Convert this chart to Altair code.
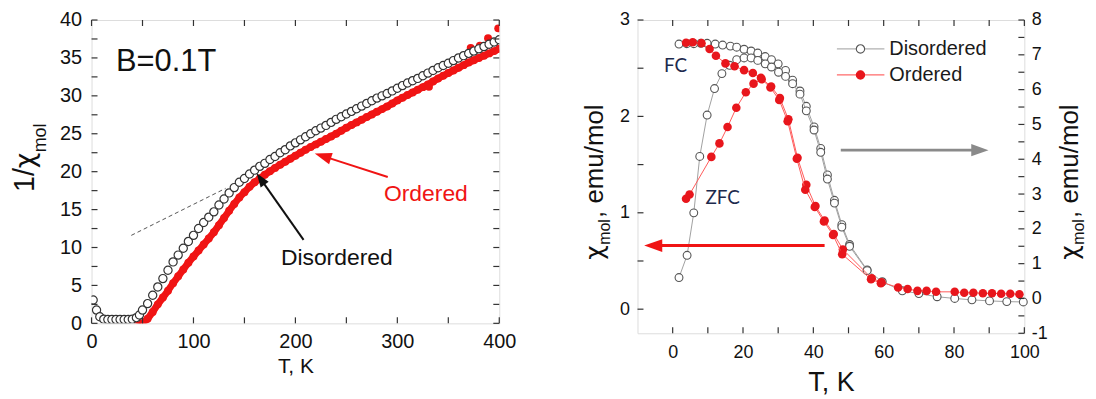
import math
import altair as alt
import pandas as pd

FONT = "Liberation Sans"
GREEK = "DejaVu Sans"
HEAD = "M0,0L-0.7,2L0.7,2Z"

# ---------------- Left panel: 1/chi_mol vs T ----------------
dis_T = [1.6, 4.9, 8.1, 12, 16, 20, 24, 28, 32, 36, 40, 44, 47, 50,
         55, 60, 65, 70, 75, 80, 85, 90, 95, 100, 105, 110, 115, 120, 125, 130, 135, 140, 145, 150,
         155, 160, 165, 170, 175, 180, 185, 190, 195, 200, 205, 210, 215, 220, 225, 230, 235, 240, 245, 250,
         255, 260, 265, 270, 275, 280, 285, 290, 295, 300, 305, 310, 315, 320, 325, 330, 335, 340, 345, 350,
         355, 360, 365, 370, 375, 380, 385, 390, 395, 400]
dis_inv = [3.07, 1.75, 0.87, 0.55, 0.5, 0.5, 0.5, 0.5, 0.5, 0.5, 0.55, 0.75, 1.1, 1.75,
           2.6, 3.7, 4.8, 5.9, 7.0, 8.1, 9.0, 9.9, 10.8, 11.6, 12.5, 13.3, 14.0, 14.7, 15.6, 16.4, 17.2, 17.9, 18.6, 19.1,
           19.7, 20.2, 20.7, 21.1, 21.6, 22.0, 22.5, 22.9, 23.4, 23.8, 24.2, 24.6, 25.0, 25.4, 25.75, 26.1, 26.5, 26.9, 27.25, 27.6,
           27.95, 28.3, 28.65, 29.0, 29.35, 29.7, 30.0, 30.3, 30.65, 31.0, 31.35, 31.7, 32.0, 32.3, 32.65, 33.0, 33.35, 33.7, 34.0, 34.3,
           34.65, 35.0, 35.3, 35.6, 35.9, 36.2, 36.5, 36.8, 37.1, 37.4]

ord_T = [45, 50, 55, 60, 65, 70, 75, 80, 85, 90, 95, 100, 105, 110, 115, 120, 125, 130, 135, 140,
         145, 150, 155, 160, 165, 170, 175, 180, 185, 190, 195, 200, 205, 210, 215, 220, 225, 230, 235, 240,
         245, 250, 255, 260, 265, 270, 275, 280, 285, 290, 295, 300, 305, 310, 315, 320, 325, 330, 335, 340,
         345, 350, 355, 360, 365, 370, 375, 380, 385, 390, 395, 400]
ord_inv = [-0.3, 0.0, 0.6, 1.5, 2.5, 3.4, 4.3, 5.3, 6.2, 7.1, 8.0, 8.8, 9.6, 10.4, 11.2, 12.0, 12.95, 13.9, 14.85, 15.75,
           16.6, 17.3, 18.0, 18.6, 19.1, 19.6, 20.05, 20.5, 20.9, 21.3, 21.7, 22.1, 22.5, 22.9, 23.25, 23.6, 23.95, 24.3, 24.65, 25.0,
           25.4, 25.8, 26.15, 26.5, 26.85, 27.2, 27.55, 27.9, 28.25, 28.6, 29.0, 29.4, 29.75, 30.1, 30.45, 30.8, 31.15, 31.5, 31.9, 32.3,
           32.65, 33.0, 33.35, 33.7, 34.05, 34.4, 34.7, 35.0, 35.3, 35.6, 35.9, 36.2]
ord_out_T = [331, 372, 381, 389, 399]
ord_out_inv = [31.2, 36.3, 36.6, 37.6, 38.9]

fit_T = [39, 131.5]
fit_inv = [11.6, 17.8]

# arrows: [tail, tip]
arrL_dis_T = [208, 162]
arrL_dis_v = [11.0, 19.8]
arrL_ord_T = [290.6, 219]
arrL_ord_v = [19.3, 22.4]

txtL = ["B=0.1T", "Ordered", "Disordered"]
txtL_T = [24, 328, 240.6]
txtL_v = [34.5, 17.1, 8.6]

ytitleL = ["1/", "χ", "mol"]
xticksL = [0, 50, 100, 150, 200, 250, 300, 350, 400]
yticksL = [0, 2.5, 5, 7.5, 10, 12.5, 15, 17.5, 20, 22.5, 25, 27.5, 30, 32.5, 35, 37.5, 40]

# ---------------- Right panel: chi_mol vs T ----------------
# Ordered (left axis, emu/mol)
o_fc_T = [3.8, 5.7, 8.2, 10.5, 12.3, 15.0, 17.6, 20.3, 22.8, 25.1, 28.0, 30.5, 32.9, 35.5, 38.0, 40.6, 43.2, 45.8, 48.4,
          56.6, 59.4, 64.1, 66.8, 69.6, 72.2, 74.9, 80.2, 82.9, 85.5, 88.2, 90.8, 93.4, 96.0, 98.6]
o_fc_v = [2.765, 2.77, 2.76, 2.70, 2.63, 2.55, 2.52, 2.48, 2.45, 2.40, 2.31, 2.19, 1.97, 1.57, 1.29, 1.07, 0.92, 0.78, 0.62,
          0.32, 0.28, 0.225, 0.21, 0.19, 0.19, 0.18, 0.18, 0.17, 0.17, 0.165, 0.165, 0.16, 0.16, 0.155]
o_zfc_T = [3.8, 4.8, 11.0, 13.3, 15.6, 18.1, 20.8, 23.0, 25.3, 27.8, 30.3, 32.7, 35.3, 37.7, 40.4, 43.0, 45.6, 48.2, 56.4, 59.2]
o_zfc_v = [1.145, 1.19, 1.58, 1.72, 1.89, 2.09, 2.25, 2.34, 2.385, 2.30, 2.17, 1.95, 1.56, 1.24, 1.06, 0.91, 0.77, 0.57, 0.31, 0.27]

# Disordered (right axis, emu/mol)
d_fc_T = [1.8, 4.0, 6.0, 8.0, 9.8, 12.1, 14.2, 16.4, 18.2, 20.3, 22.3, 24.2, 26.3, 28.1, 30.0, 32.1, 34.1, 36.2, 38.0,
          40.2, 42.1, 44.0, 46.0, 48.1, 50.3, 55.3, 59.6, 65.3, 70.0, 75.2, 80.2, 85.1, 90.1, 95.0, 99.7]
d_fc_v = [7.31, 7.32, 7.32, 7.33, 7.33, 7.31, 7.28, 7.25, 7.22, 7.16, 7.11, 7.05, 6.95, 6.86, 6.74, 6.55, 6.27, 5.96, 5.52,
          4.93, 4.31, 3.55, 2.82, 2.12, 1.55, 0.82, 0.48, 0.22, 0.14, 0.05, 0.0, -0.04, -0.07, -0.09, -0.1]
d_zfc_T = [1.8, 4.1, 6.0, 7.7, 9.8, 11.9, 14.0, 16.2, 18.2, 20.3, 22.3, 24.2, 26.3, 28.1, 30.1, 32.1, 34.1, 36.2, 38.0,
           40.2, 42.1, 44.0, 46.0, 48.1, 50.3, 55.3]
d_zfc_v = [0.60, 1.24, 2.46, 4.08, 5.27, 6.03, 6.46, 6.70, 6.86, 6.91, 6.91, 6.84, 6.74, 6.65, 6.50, 6.38, 6.17, 5.87, 5.39,
           4.84, 4.20, 3.43, 2.74, 2.05, 1.50, 0.80]

# arrows (left-axis units): [tail, tip]
arrR_gray_T = [47.8, 89.8]
arrR_gray_v = [1.65, 1.65]
arrR_red_T = [43.2, -8.1]
arrR_red_v = [0.66, 0.66]

legend_labels = ["Disordered", "Ordered"]
legend_v = [2.70, 2.43]
legend_line_T = [46.7, 60.2]
legend_mark_T = 53.4
legend_text_T = 61.6

branch_labels = ["FC", "ZFC"]
branch_T = [-2.5, 9.3]
branch_v = [2.52, 1.155]

ytitleR = ["χ", "mol", ", emu/mol"]
xticksR = [0, 10, 20, 30, 40, 50, 60, 70, 80, 90, 100]
yticksRl = [0, 0.5, 1, 1.5, 2, 2.5, 3]
yticksRr = [-1, -0.5, 0, 0.5, 1, 1.5, 2, 2.5, 3, 3.5, 4, 4.5, 5, 5.5, 6, 6.5, 7, 7.5, 8]

# ---------------- geometry / style ----------------
LW, LH = 410, 305
RW, RH = 389, 315
xL_dom, yL_dom = [0, 400], [0, 40]
xR_dom, yRl_dom, yRr_dom = [-10, 100], [-0.25, 3], [-1, 8]
TICK = 6
TICK_COLOR = "#333333"


def sc(dom):
    return alt.Scale(domain=dom, nice=False, zero=False)


def lab_axis(orient, values, every, fs, pad, **kw):
    a = dict(orient=orient, values=values, ticks=False, tickSize=0, domain=False, grid=False,
             labelOverlap=False, labelFlush=False, labelFont=FONT, labelFontSize=fs,
             labelColor="#111111", labelPadding=pad,
             labelExpr=f"datum.value % {every} === 0 ? '' + datum.value : ''")
    a.update(kw)
    return alt.Axis(**a)


def tick_layers(xvals, yvals_list, xs, W, H):
    """Inward ticks on all four sides of the frame."""
    out = []
    dx = pd.DataFrame({"tv": xvals})
    for y0, y1 in [(H, H - TICK), (0, TICK)]:
        out.append(alt.Chart(dx).mark_rule(color=TICK_COLOR, strokeWidth=1.2).encode(
            x=alt.X("tv:Q", scale=xs, axis=None), y=alt.value(y0), y2=alt.value(y1)))
    for (yvals, ys), (x0, x1) in zip(yvals_list, [(0, TICK), (W, W - TICK)]):
        dy = pd.DataFrame({"tv": yvals})
        out.append(alt.Chart(dy).mark_rule(color=TICK_COLOR, strokeWidth=1.2).encode(
            y=alt.Y("tv:Q", scale=ys, axis=None), x=alt.value(x0), x2=alt.value(x1)))
    return out


def shaft_df(Ts, vs, xdom, ydom, W, H, back_px):
    kx = W / (xdom[1] - xdom[0])
    ky = H / (ydom[1] - ydom[0])
    dxp = (Ts[0] - Ts[1]) * kx
    dyp = (vs[0] - vs[1]) * ky
    L = math.hypot(dxp, dyp)
    f = back_px / L
    return pd.DataFrame({"T": [Ts[0]], "v": [vs[0]],
                         "T2": [Ts[1] + (Ts[0] - Ts[1]) * f], "v2": [vs[1] + (vs[0] - vs[1]) * f]})


def arrow(Ts, vs, xs, ys, xdom, ydom, W, H, color, width, ang, size):
    head_len = math.sqrt(size)
    shaft = alt.Chart(shaft_df(Ts, vs, xdom, ydom, W, H, head_len * 0.8)).mark_rule(
        color=color, strokeWidth=width).encode(
        x=alt.X("T:Q", scale=xs, axis=None), y=alt.Y("v:Q", scale=ys, axis=None),
        x2="T2:Q", y2="v2:Q")
    head = alt.Chart(pd.DataFrame({"T": [Ts[1]], "v": [vs[1]]})).mark_point(
        shape=HEAD, filled=True, color=color, opacity=1, strokeWidth=0, size=size, angle=ang).encode(
        x=alt.X("T:Q", scale=xs, axis=None), y=alt.Y("v:Q", scale=ys, axis=None))
    return [shaft, head]


def txt(df, xs, ys, color, fs, align, font=FONT):
    return alt.Chart(df).mark_text(color=color, fontSize=fs, font=font, align=align, baseline="middle").encode(
        x=alt.X("T:Q", scale=xs, axis=None), y=alt.Y("v:Q", scale=ys, axis=None), text="t:N")


def rot_text(t, fs, xv, yv, font=FONT):
    return alt.Chart(pd.DataFrame({"t": [t]})).mark_text(
        angle=270, align="left", baseline="alphabetic", fontSize=fs, font=font, color="#111111").encode(
        x=alt.value(xv), y=alt.value(yv), text="t:N")


# ---------------- Left panel ----------------
xL, yL = sc(xL_dom), sc(yL_dom)
df_dis = pd.DataFrame({"T": dis_T, "v": dis_inv})
df_ord = pd.DataFrame({"T": ord_T, "v": ord_inv})
df_out = pd.DataFrame({"T": ord_out_T, "v": ord_out_inv})
RED = "#f01414"

red_band = alt.Chart(df_ord).mark_line(color=RED, strokeWidth=7, clip=True).encode(
    x=alt.X("T:Q", scale=xL, axis=lab_axis("bottom", xticksL, 100, 20, 8,
                                             title="T, K", titleFont=FONT, titleFontSize=21,
                                             titleFontWeight="normal", titleColor="#111111", titlePadding=4)),
    y=alt.Y("v:Q", scale=yL, axis=lab_axis("left", yticksL, 5, 20, 10, title=None)))
red_pts = alt.Chart(df_ord).mark_circle(size=64, color=RED, opacity=1, clip=True).encode(
    x=alt.X("T:Q", scale=xL, axis=None), y=alt.Y("v:Q", scale=yL, axis=None))
red_out = alt.Chart(df_out).mark_circle(size=64, color=RED, opacity=1, clip=True).encode(
    x=alt.X("T:Q", scale=xL, axis=None), y=alt.Y("v:Q", scale=yL, axis=None))

dis_L = alt.Chart(df_dis).mark_point(shape="circle", filled=True, fill="white", stroke="#333333",
                                      strokeWidth=1.2, size=68, opacity=1, clip=True).encode(
    x=alt.X("T:Q", scale=xL, axis=None), y=alt.Y("v:Q", scale=yL, axis=None))

fit_L = alt.Chart(pd.DataFrame({"T": fit_T, "v": fit_inv})).mark_line(
    color="#555555", strokeWidth=1, strokeDash=[4, 3]).encode(
    x=alt.X("T:Q", scale=xL, axis=None), y=alt.Y("v:Q", scale=yL, axis=None))

arr_L = (arrow(arrL_dis_T, arrL_dis_v, xL, yL, xL_dom, yL_dom, LW, LH, "#111111", 2, 325, 196)
         + arrow(arrL_ord_T, arrL_ord_v, xL, yL, xL_dom, yL_dom, LW, LH, RED, 2, 287.6, 289))

t_B = txt(pd.DataFrame({"t": [txtL[0]], "T": [txtL_T[0]], "v": [txtL_v[0]]}), xL, yL, "#111111", 31, "left")
t_O = txt(pd.DataFrame({"t": [txtL[1]], "T": [txtL_T[1]], "v": [txtL_v[1]]}), xL, yL, RED, 23, "center")
t_D = txt(pd.DataFrame({"t": [txtL[2]], "T": [txtL_T[2]], "v": [txtL_v[2]]}), xL, yL, "#111111", 23, "center")

ytl = [rot_text(ytitleL[0], 29, -58, 173),
       rot_text(ytitleL[1], 27, -58, 149, GREEK),
       rot_text(ytitleL[2], 18, -46, 133)]

ticks_L = tick_layers(xticksL, [(yticksL, yL), (yticksL, yL)], xL, LW, LH)

left = alt.layer(red_band, red_pts, red_out, dis_L, fit_L, *arr_L, t_B, t_O, t_D, *ytl, *ticks_L).resolve_axis(
    x="independent", y="independent").properties(width=LW, height=LH)

# ---------------- Right panel ----------------
xR, yRl, yRr = sc(xR_dom), sc(yRl_dom), sc(yRr_dom)


def series_df(Ts, vs):
    return pd.DataFrame({"T": Ts, "v": vs})


gray_layers = []
for i, (Ts, vs) in enumerate([(d_fc_T, d_fc_v), (d_zfc_T, d_zfc_v)]):
    d = series_df(Ts, vs)
    gray_layers.append(alt.Chart(d).mark_line(color="#a0a0a0", strokeWidth=1).encode(
        x=alt.X("T:Q", scale=xR, axis=None), y=alt.Y("v:Q", scale=yRr, axis=None)))
    ya = lab_axis("right", yticksRr, 1, 18, 7, title=None) if i == 0 else None
    gray_layers.append(alt.Chart(d).mark_point(shape="circle", filled=True, fill="white", stroke="#555555",
                                               strokeWidth=1.1, size=62, opacity=1).encode(
        x=alt.X("T:Q", scale=xR, axis=None), y=alt.Y("v:Q", scale=yRr, axis=ya)))

red_layers = []
for i, (Ts, vs) in enumerate([(o_fc_T, o_fc_v), (o_zfc_T, o_zfc_v)]):
    d = series_df(Ts, vs)
    red_layers.append(alt.Chart(d).mark_line(color="#ff5a5a", strokeWidth=1).encode(
        x=alt.X("T:Q", scale=xR, axis=None), y=alt.Y("v:Q", scale=yRl, axis=None)))
    if i == 0:
        xa = lab_axis("bottom", xticksR, 20, 18, 10,
                      title="T, K", titleFont=FONT, titleFontSize=27, titleFontWeight="normal",
                      titleColor="#111111", titlePadding=9)
        ya = lab_axis("left", yticksRl, 1, 18, 8, title=None)
    else:
        xa, ya = None, None
    red_layers.append(alt.Chart(d).mark_circle(size=74, color="#e8161c", opacity=1).encode(
        x=alt.X("T:Q", scale=xR, axis=xa), y=alt.Y("v:Q", scale=yRl, axis=ya)))

arr_R = (arrow(arrR_gray_T, arrR_gray_v, xR, yRl, xR_dom, yRl_dom, RW, RH, "#8a8a8a", 2.6, 90, 300)
         + arrow(arrR_red_T, arrR_red_v, xR, yRl, xR_dom, yRl_dom, RW, RH, RED, 3, 270, 330))

leg_layers = []
leg_styles = [dict(line="#b0b0b0", fill="white", stroke="#555555"),
              dict(line="#ff6a6a", fill="#e8161c", stroke="#e8161c")]
for lab, v, st in zip(legend_labels, legend_v, leg_styles):
    leg_layers.append(alt.Chart(pd.DataFrame({"T": [legend_line_T[0]], "T2": [legend_line_T[1]], "v": [v]})).mark_rule(
        color=st["line"], strokeWidth=1.2).encode(
        x=alt.X("T:Q", scale=xR, axis=None), x2="T2:Q", y=alt.Y("v:Q", scale=yRl, axis=None)))
    leg_layers.append(alt.Chart(pd.DataFrame({"T": [legend_mark_T], "v": [v]})).mark_point(
        shape="circle", filled=True, fill=st["fill"], stroke=st["stroke"], strokeWidth=1.1, size=70, opacity=1).encode(
        x=alt.X("T:Q", scale=xR, axis=None), y=alt.Y("v:Q", scale=yRl, axis=None)))
    leg_layers.append(alt.Chart(pd.DataFrame({"T": [legend_text_T], "v": [v], "t": [lab]})).mark_text(
        align="left", baseline="middle", fontSize=20, font=FONT, color="#1a1a1a").encode(
        x=alt.X("T:Q", scale=xR, axis=None), y=alt.Y("v:Q", scale=yRl, axis=None), text="t:N"))

t_FC = txt(pd.DataFrame({"t": [branch_labels[0]], "T": [branch_T[0]], "v": [branch_v[0]]}), xR, yRl,
           "#1d2a4d", 19, "left", "Lato")
t_ZFC = txt(pd.DataFrame({"t": [branch_labels[1]], "T": [branch_T[1]], "v": [branch_v[1]]}), xR, yRl,
            "#1d2a4d", 19, "left", "Lato")


def ytitle_parts(x_main, x_sub):
    return [rot_text(ytitleR[0], 25, x_main, 241, GREEK), rot_text(ytitleR[1], 16, x_sub, 226),
            rot_text(ytitleR[2], 26, x_main, 199)]


ytR = ytitle_parts(-35, -28) + ytitle_parts(443, 449)
ticks_R = tick_layers(xticksR, [(yticksRl, yRl), (yticksRr, yRr)], xR, RW, RH)

right = alt.layer(*gray_layers, *red_layers, *arr_R, *leg_layers, t_FC, t_ZFC, *ytR, *ticks_R).resolve_scale(
    y="independent").resolve_axis(x="independent", y="independent").properties(width=RW, height=RH)

chart = alt.hconcat(left, right, spacing=64).properties(
    padding={"left": 2, "top": 0, "right": 0, "bottom": 0}
).configure_view(stroke="#404040", strokeWidth=1.5).configure(background="white")

chart.save("out.html", embed_options={"renderer": "svg", "actions": False})
